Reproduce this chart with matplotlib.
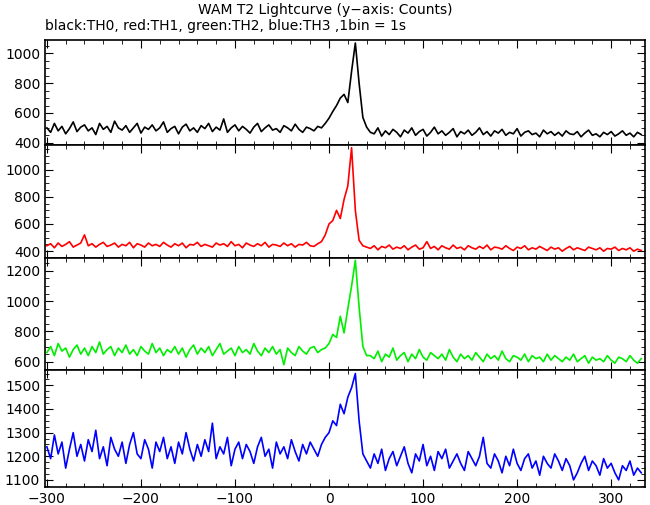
import numpy as np
import matplotlib
matplotlib.use("Agg")
import matplotlib.pyplot as plt
from matplotlib.ticker import MultipleLocator

burst_t = [-8, -4, 0, 4, 8, 12, 16, 20, 24, 28, 32, 36, 40]

th0_pre = [500,470,530,480,510,460,495,540,475,505,
           520,480,500,455,530,490,510,470,545,500,
           485,515,470,500,530,465,505,490,520,480,
           500,540,470,495,510,460,505,525,480,500,
           470,515,495,530,475,505,485,560,470,500,
           520,480,510,490,465,505,530,475,500,520,
           485,495,470,515,500,480,525,490,470,505,
           495,480,510]
th0_burst = [500,530,565,610,650,700,725,670,880,1070,800,570,505]
th0_post = [470,460,500,445,480,455,490,470,440,485,
            465,500,450,475,490,445,470,505,460,480,
            450,470,495,440,475,460,485,450,470,500,
            455,475,445,480,465,490,450,470,460,495,
            445,470,480,455,465,440,485,460,475,450,
            470,445,480,460,455,475,440,465,485,450,
            460,440,470,455,475,445,460,480,450,465,
            440,470,455]

th1_pre = [440,455,425,460,435,450,470,430,445,460,
           520,440,455,430,450,465,435,445,460,430,
           450,440,465,425,455,445,430,460,440,450,
           435,465,445,430,455,440,460,425,450,445,
           465,435,450,440,430,460,445,455,435,470,
           440,450,425,460,445,435,455,440,465,430,
           450,445,435,460,440,455,430,450,445,465,
           440,435,455]
th1_burst = [470,520,600,625,700,640,780,880,1160,700,480,440,430]
th1_post = [420,440,410,435,425,445,415,430,420,440,
            410,430,445,415,425,470,420,435,410,440,
            425,415,445,420,430,410,440,425,415,435,
            420,445,410,430,425,415,440,420,405,430,
            420,440,410,425,415,435,420,405,430,415,
            425,400,420,435,410,425,415,405,430,420,
            410,425,400,420,415,430,405,420,410,425,
            400,415,405]

th2_pre = [660,700,640,720,670,690,630,680,710,650,
           690,640,700,660,730,650,680,700,640,690,
           660,710,650,680,640,700,670,650,720,660,
           690,640,680,660,700,650,690,630,680,710,
           650,690,660,700,640,680,720,650,670,690,
           640,700,660,680,650,720,670,640,690,660,
           700,650,680,580,690,660,640,700,670,650,
           690,700,660]
th2_burst = [680,690,720,780,760,900,790,950,1100,1270,960,700,640]
th2_post = [640,620,670,600,650,630,690,610,640,660,
            600,650,620,680,630,610,660,640,620,650,
            610,680,630,600,650,620,640,610,660,630,
            600,650,620,640,610,670,620,600,640,630,
            610,650,600,640,620,630,600,650,610,640,
            620,600,630,610,650,600,620,640,590,630,
            610,620,600,640,610,590,630,620,600,640,
            610,590,620]

th3_pre = [1240,1190,1290,1210,1260,1150,1230,1300,1200,1250,
           1180,1270,1220,1310,1190,1240,1160,1280,1230,1200,
           1260,1170,1250,1300,1210,1190,1270,1230,1150,1260,
           1220,1280,1190,1240,1170,1260,1210,1300,1230,1180,
           1250,1200,1270,1220,1340,1190,1240,1210,1280,1160,
           1230,1260,1190,1250,1220,1170,1240,1280,1200,1230,
           1150,1260,1210,1240,1190,1270,1220,1180,1250,1210,
           1260,1230,1200]
th3_burst = [1250,1280,1300,1350,1330,1420,1380,1450,1490,1550,1350,1210,1180]
th3_post = [1150,1210,1170,1230,1140,1190,1220,1160,1200,1240,
            1170,1130,1210,1180,1250,1160,1200,1140,1220,1190,
            1230,1150,1180,1210,1170,1140,1220,1190,1160,1200,
            1280,1170,1150,1210,1180,1130,1200,1160,1230,1170,
            1140,1190,1210,1150,1180,1120,1200,1170,1150,1210,
            1180,1140,1190,1160,1100,1130,1170,1200,1140,1180,
            1160,1120,1190,1150,1170,1130,1100,1160,1140,1180,
            1120,1150,1130]

series = [(th0_pre, th0_burst, th0_post, "black", (385, 1090), [400, 600, 800, 1000]),
          (th1_pre, th1_burst, th1_post, "#ff0000", (350, 1180), [400, 600, 800, 1000]),
          (th2_pre, th2_burst, th2_post, "#00ee00", (545, 1285), [600, 800, 1000, 1200]),
          (th3_pre, th3_burst, th3_post, "#0000ff", (1070, 1565), [1100, 1200, 1300, 1400, 1500])]

fig = plt.figure(figsize=(6.5, 5.05), dpi=100)
tops = [40, 145, 258, 370, 487]
for i, (pre, bur, post, col, yl, yt) in enumerate(series):
    y0 = 1 - tops[i+1] / 505
    h = (tops[i+1] - tops[i]) / 505
    ax = fig.add_axes([45/650, y0, 600/650, h])
    bt = np.array(burst_t)
    tp = bt[0] - 4*np.arange(len(pre), 0, -1)
    tq = bt[-1] + 4*np.arange(1, len(post)+1)
    t = np.concatenate([tp, bt, tq])
    y = np.concatenate([pre, bur, post])
    ax.plot(t, y, color=col, lw=1.2)
    ax.set_xlim(-302, 336)
    ax.set_ylim(*yl)
    ax.set_yticks(yt)
    ax.xaxis.set_major_locator(MultipleLocator(100))
    ax.xaxis.set_minor_locator(MultipleLocator(20))
    ax.yaxis.set_minor_locator(MultipleLocator(50 if i < 3 else 25))
    ax.tick_params(which="both", direction="in", top=True, right=True, labelsize=10)
    ax.tick_params(which="major", length=6)
    ax.tick_params(which="minor", length=3)
    if i < 3:
        ax.set_xticklabels([])
    for s in ax.spines.values():
        s.set_linewidth(1.2)
fig.text(0.5, 1 - 10/505, "WAM T2 Lightcurve (y\u2212axis: Counts)", ha="center", va="center", fontsize=10)
fig.text(45/650, 1 - 26/505, "black:TH0, red:TH1, green:TH2, blue:TH3 ,1bin = 1s", ha="left", va="center", fontsize=10)
fig.savefig("out.png", dpi=100)
